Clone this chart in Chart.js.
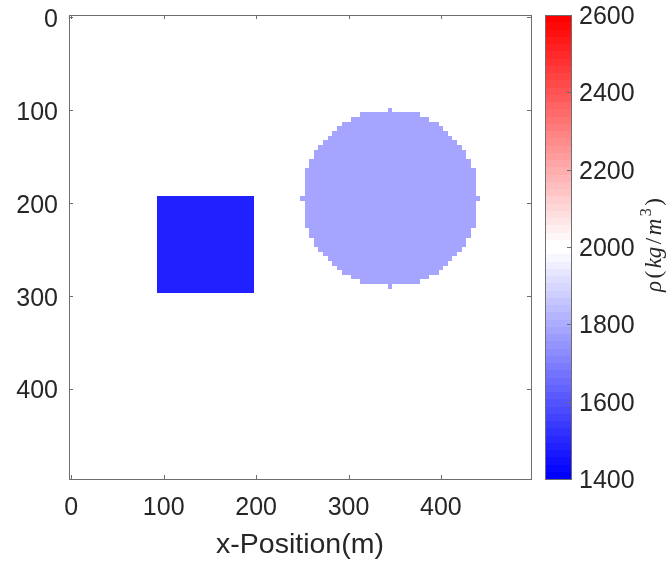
<!DOCTYPE html>
<html>
<head>
<meta charset="utf-8">
<script src="https://cdn.jsdelivr.net/npm/chart.js@4/dist/chart.umd.min.js"></script>
<style>
  body { margin: 0; background: #fff; }
  #wrap { position: relative; width: 667px; height: 563px; }
  #main { position: absolute; left: 0; top: 0; }
  #cbar { position: absolute; left: 540px; top: 0; }
</style>
</head>
<body>
<div id="wrap">
  <canvas id="main" width="540" height="563"></canvas>
  <canvas id="cbar" width="127" height="563"></canvas>
</div>
<script>
// model grid: 100 x 100 cells, 5 m each, cell centres at 0, 5, ..., 495
var cellSize = 5;
var nCells = 100;

// densities in kg/m^3
var backgroundRho = 2000;
var blockRho = 1480;
var discRho = 1790;

// the two bodies
var blockX = [95, 195];
var blockY = [195, 295];
var discCentre = [345, 195];
var discRadius = 95;

// axes
var xTicks = [0, 100, 200, 300, 400];
var yTicks = [0, 100, 200, 300, 400];
var rhoTicks = [1400, 1600, 1800, 2000, 2200, 2400, 2600];
var rhoRange = [1400, 2600];
var nColours = 64;

var textCol = '#262626';
var lineCol = '#6e6e6e';
var sans = '"Liberation Sans", Arial, sans-serif';
Chart.defaults.font.family = sans;

// build the density grid
var cells = [];
for (var i = 0; i < nCells; i++) {
    for (var j = 0; j < nCells; j++) {
        var x = i * cellSize, y = j * cellSize;
        var rho = backgroundRho;
        if (x >= blockX[0] && x <= blockX[1] && y >= blockY[0] && y <= blockY[1]) rho = blockRho;
        var dx = x - discCentre[0], dy = y - discCentre[1];
        if (dx * dx + dy * dy <= discRadius * discRadius) rho = discRho;
        cells.push({ x: x, y: y, v: rho });
    }
}

// blue - white - red map, 64 steps
function colourIndex(v) {
    var k = Math.floor((v - rhoRange[0]) / (rhoRange[1] - rhoRange[0]) * nColours);
    return Math.max(0, Math.min(nColours - 1, k));
}
function colourAt(k) {
    var half = nColours / 2, r, g, b, t;
    if (k < half) {
        t = k / (half - 1);
        r = g = Math.round(255 * t); b = 255;
    } else {
        t = (k - half) / (half - 1);
        r = 255; g = b = Math.round(255 * (1 - t));
    }
    return 'rgb(' + r + ',' + g + ',' + b + ')';
}

function crisp(v) { return Math.round(v) + 0.5; }
function plain(v) { return String(v); }

// keep the plot box where the layout padding puts it
function noEdgePadding(s) {
    s.paddingTop = 0; s.paddingBottom = 0;
    s.paddingLeft = 0; s.paddingRight = 0;
}

var cellPlugin = {
    id: 'cells',
    beforeDatasetsDraw: function (chart) {
        var ctx = chart.ctx, xs = chart.scales.x, ys = chart.scales.y;
        var h = cellSize / 2;
        ctx.save();
        chart.data.datasets[0].data.forEach(function (c) {
            var x0 = Math.round(xs.getPixelForValue(c.x - h));
            var x1 = Math.round(xs.getPixelForValue(c.x + h));
            var y0 = Math.round(ys.getPixelForValue(c.y - h));
            var y1 = Math.round(ys.getPixelForValue(c.y + h));
            ctx.fillStyle = colourAt(colourIndex(c.v));
            ctx.fillRect(x0, Math.min(y0, y1), x1 - x0, Math.abs(y1 - y0));
        });
        ctx.restore();
    },
    afterDatasetsDraw: function (chart) {
        var ctx = chart.ctx, a = chart.chartArea, xs = chart.scales.x, ys = chart.scales.y;
        var tl = 4;
        ctx.save();
        ctx.strokeStyle = lineCol;
        ctx.lineWidth = 1;
        ctx.beginPath();
        xs.ticks.forEach(function (t) {
            var px = crisp(xs.getPixelForValue(t.value));
            ctx.moveTo(px, a.bottom); ctx.lineTo(px, a.bottom - tl);
            ctx.moveTo(px, a.top); ctx.lineTo(px, a.top + tl);
        });
        ys.ticks.forEach(function (t) {
            var py = crisp(ys.getPixelForValue(t.value));
            ctx.moveTo(a.left, py); ctx.lineTo(a.left + tl, py);
            ctx.moveTo(a.right, py); ctx.lineTo(a.right - tl, py);
        });
        ctx.stroke();
        ctx.strokeRect(a.left + 0.5, a.top + 0.5, a.right - a.left, a.bottom - a.top);
        ctx.restore();
    }
};

var cbarPlugin = {
    id: 'cbar',
    afterDatasetsDraw: function (chart) {
        var ctx = chart.ctx, a = chart.chartArea, ys = chart.scales.y;
        var step = (rhoRange[1] - rhoRange[0]) / nColours;
        ctx.save();
        for (var k = 0; k < nColours; k++) {
            var lo = rhoRange[0] + k * step;
            var y0 = Math.round(ys.getPixelForValue(lo));
            var y1 = Math.round(ys.getPixelForValue(lo + step));
            ctx.fillStyle = colourAt(k);
            ctx.fillRect(a.left, y1, a.right - a.left, y0 - y1);
        }
        ctx.strokeStyle = lineCol;
        ctx.lineWidth = 1;
        ctx.beginPath();
        ys.ticks.forEach(function (t) {
            var py = crisp(ys.getPixelForValue(t.value));
            ctx.moveTo(a.right, py); ctx.lineTo(a.right - 4, py);
        });
        ctx.stroke();
        ctx.strokeRect(a.left + 0.5, a.top + 0.5, a.right - a.left, a.bottom - a.top);

        // colour bar label, rotated to read upwards
        var parts = [
            { t: '\u03c1', f: 'italic 23px "Liberation Serif"', dy: 0 },
            { t: '(', f: '23px "Liberation Serif"', dy: 0 },
            { t: 'kg', f: 'italic 23px "Liberation Serif"', dy: 0 },
            { t: '/', f: '23px "Liberation Serif"', dy: 0 },
            { t: 'm', f: 'italic 23px "Liberation Serif"', dy: 0 },
            { t: '3', f: '16px "Liberation Serif"', dy: -8 },
            { t: ')', f: '23px "Liberation Serif"', dy: 0 }
        ];
        var gap = 2.5, total = 0;
        parts.forEach(function (p) { ctx.font = p.f; p.w = ctx.measureText(p.t).width; total += p.w + gap; });
        total -= gap;
        ctx.translate(115, (a.top + a.bottom) / 2 - 2);
        ctx.rotate(-Math.PI / 2);
        ctx.fillStyle = textCol;
        ctx.textBaseline = 'middle';
        ctx.textAlign = 'left';
        var cx = -total / 2;
        parts.forEach(function (p) {
            ctx.font = p.f;
            ctx.fillText(p.t, cx, p.dy);
            cx += p.w + gap;
        });
        ctx.restore();
    }
};

var tickFont = { family: sans, size: 25 };

new Chart(document.getElementById('main'), {
    type: 'scatter',
    data: { datasets: [{ data: cells, pointRadius: 0, pointHoverRadius: 0 }] },
    options: {
        responsive: false,
        animation: false,
        events: [],
        layout: { padding: { left: 0, top: 15, right: 9, bottom: 0 } },
        plugins: { legend: { display: false }, tooltip: { enabled: false } },
        scales: {
            x: {
                type: 'linear', min: -2.5, max: 497.5,
                grid: { display: false, drawTicks: false },
                border: { display: false },
                afterBuildTicks: function (s) { s.ticks = xTicks.map(function (v) { return { value: v }; }); },
                afterFit: function (s) { s.height = 84; noEdgePadding(s); },
                ticks: { color: textCol, font: tickFont, padding: 14, maxRotation: 0, autoSkip: false, callback: plain },
                title: {
                    display: true, text: 'x-Position(m)', color: textCol,
                    font: { family: sans, size: 28.5 }, padding: { top: 0, bottom: 1 }
                }
            },
            y: {
                type: 'linear', reverse: true, min: -2.5, max: 497.5,
                grid: { display: false, drawTicks: false },
                border: { display: false },
                afterBuildTicks: function (s) { s.ticks = yTicks.map(function (v) { return { value: v }; }); },
                afterFit: function (s) { s.width = 69; noEdgePadding(s); },
                ticks: { color: textCol, font: tickFont, padding: 11, labelOffset: 3, autoSkip: false, callback: plain }
            }
        }
    },
    plugins: [cellPlugin]
});

new Chart(document.getElementById('cbar'), {
    type: 'scatter',
    data: { datasets: [{ data: [] }] },
    options: {
        responsive: false,
        animation: false,
        events: [],
        layout: { padding: { left: 5, top: 15, right: 0, bottom: 84 } },
        plugins: { legend: { display: false }, tooltip: { enabled: false } },
        scales: {
            x: { type: 'linear', display: false, min: 0, max: 1 },
            y: {
                type: 'linear', position: 'right', min: rhoRange[0], max: rhoRange[1],
                grid: { display: false, drawTicks: false },
                border: { display: false },
                afterBuildTicks: function (s) { s.ticks = rhoTicks.map(function (v) { return { value: v }; }); },
                afterFit: function (s) { s.width = 96; noEdgePadding(s); },
                ticks: { color: textCol, font: tickFont, padding: 8, labelOffset: 2, autoSkip: false, callback: plain }
            }
        }
    },
    plugins: [cbarPlugin]
});
</script>
</body>
</html>
